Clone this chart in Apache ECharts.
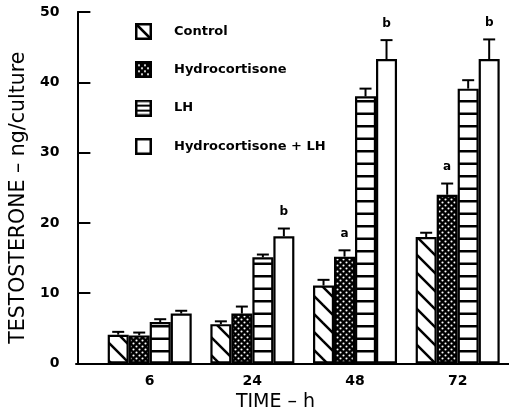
<!DOCTYPE html>
<html><head><meta charset="utf-8">
<script src="https://cdn.jsdelivr.net/npm/echarts@6/dist/echarts.min.js"></script>
<style>html,body{margin:0;padding:0;background:#fff}#c{width:509px;height:419px}</style>
</head><body><div id="c"></div>
<script>
// ---- data ----
const categories = ['6', '24', '48', '72'];
const seriesNames = ['Control', 'Hydrocortisone', 'LH', 'Hydrocortisone + LH'];
const control = [4.1, 5.6, 11.1, 18.0];
const controlErr = [0.4, 0.4, 0.8, 0.6];
const hydro = [4.0, 7.1, 15.2, 24.0];
const hydroErr = [0.4, 1.0, 0.9, 1.6];
const lh = [5.9, 15.1, 38.0, 39.1];
const lhErr = [0.4, 0.4, 1.1, 1.2];
const hydroLh = [7.1, 18.1, 43.3, 43.3];
const hydroLhErr = [0.4, 1.1, 2.7, 2.8];
const controlSig = ['', '', '', ''];
const hydroSig = ['', '', 'a', 'a'];
const lhSig = ['', '', '', ''];
const hydroLhSig = ['', 'b', 'b', 'b'];
const yMin = 0, yMax = 50, yStep = 10;
const xTitle = 'TIME \u2013 h';
const yTitle = 'TESTOSTERONE \u2013 ng/culture';

// ---- styles ----
const BAR_W = 21;
function mk(w, h, draw) {
  const c = document.createElement('canvas'); c.width = w; c.height = h;
  const x = c.getContext('2d'); x.fillStyle = '#fff'; x.fillRect(0, 0, w, h);
  draw(x, w, h); return c;
}
const diag = mk(18, 18, (x) => {
  x.strokeStyle = '#000'; x.lineWidth = 2.5;
  for (let k = -1; k <= 1; k++) { x.beginPath(); x.moveTo(k * 18 - 5, -5); x.lineTo(k * 18 + 23, 23); x.stroke(); }
});
const dots = mk(6, 6, (x) => {
  x.fillStyle = '#000'; x.fillRect(0, 0, 6, 6); x.fillStyle = '#fff';
  x.beginPath(); x.arc(1.5, 1.5, 1.05, 0, 7); x.fill();
  x.beginPath(); x.arc(4.5, 4.5, 1.05, 0, 7); x.fill();
});
const hl = mk(4, 25, (x) => { x.fillStyle = '#000'; x.fillRect(0, 0, 4, 2.5); x.fillRect(0, 12.5, 4, 2.5); });

function icon(kind) {
  const c = mk(17, 17, (x) => {
    if (kind === 1) { x.fillStyle = '#000'; x.fillRect(0, 0, 17, 17); x.fillStyle = '#fff';
      for (let i = 4; i < 14; i += 3) for (let j = 4; j < 14; j += 3) if (((i + j) / 3) % 2 < 1) { x.beginPath(); x.arc(i, j, 1.1, 0, 7); x.fill(); } }
    x.strokeStyle = '#000'; x.lineWidth = 2.5; x.strokeRect(1.25, 1.25, 14.5, 14.5);
    if (kind === 0) { x.beginPath(); x.moveTo(1, 1); x.lineTo(16, 16); x.stroke(); }
    if (kind === 2) { x.lineWidth = 2; x.beginPath(); x.moveTo(0, 6); x.lineTo(17, 6); x.moveTo(0, 11); x.lineTo(17, 11); x.stroke(); }
  });
  return 'image://' + c.toDataURL();
}

const valueSets = [control, hydro, lh, hydroLh];
const errSets = [controlErr, hydroErr, lhErr, hydroLhErr];
const sigSets = [controlSig, hydroSig, lhSig, hydroLhSig];
const fills = [{ image: diag, repeat: 'repeat' }, { image: dots, repeat: 'repeat' }, { image: hl, repeat: 'repeat' }, '#fff'];

const errData = [], sigFlat = [];
valueSets.forEach((vals, s) => vals.forEach((v, c) => { errData.push([c, v, errSets[s][c], s]); sigFlat.push(sigSets[s][c]); }));

const chart = echarts.init(document.getElementById('c'), null, { renderer: 'canvas' });
chart.setOption({
  animation: false,
  backgroundColor: '#fff',
  textStyle: { fontFamily: 'DejaVu Sans', color: '#000' },
  legend: {
    orient: 'vertical', left: 135, top: 23, padding: 0,
    itemWidth: 17, itemHeight: 17, itemGap: 21.3,
    selectedMode: false,
    data: seriesNames.map((n, i) => ({ name: n, icon: icon(i) })),
    textStyle: { fontFamily: 'DejaVu Sans', fontWeight: 'bold', fontSize: 13, color: '#000', padding: [0, 0, 0, 17] }
  },
  grid: [
    { left: 97, width: 422, top: 12, bottom: 55.5 },
    { left: 76, right: 0, top: 12, bottom: 55.5 }
  ],
  xAxis: [
    { type: 'category', gridIndex: 0, data: categories,
      axisLine: { show: false }, axisTick: { show: false },
      axisLabel: { margin: 11, fontFamily: 'DejaVu Sans', fontWeight: 'bold', fontSize: 14, color: '#000' } },
    { type: 'value', gridIndex: 1, min: 0, max: 1, splitLine: { show: false },
      axisLine: { show: true, lineStyle: { color: '#000', width: 2 } }, axisTick: { show: false }, axisLabel: { show: false },
      name: xTitle, nameLocation: 'middle', nameGap: 29,
      nameTextStyle: { fontFamily: 'DejaVu Sans', fontSize: 19, color: '#000', padding: [0, 34, 0, 0] } }
  ],
  yAxis: [
    { type: 'value', gridIndex: 0, min: yMin, max: yMax, interval: yStep, offset: 21,
      splitLine: { show: false },
      axisLine: { show: true, lineStyle: { color: '#000', width: 2 } },
      axisTick: { show: true, inside: true, length: 13, lineStyle: { color: '#000', width: 2 } },
      axisLabel: { margin: 18, fontFamily: 'DejaVu Sans', fontWeight: 'bold', fontSize: 14, color: '#000' },
      name: yTitle, nameLocation: 'middle', nameGap: 48,
      nameTextStyle: { fontFamily: 'DejaVu Sans', fontSize: 20.5, color: '#000', padding: [0, 20, 0, 0] } },
    { type: 'value', gridIndex: 1, show: false, min: 0, max: 1 }
  ],
  series: valueSets.map((vals, i) => ({
    type: 'bar', name: seriesNames[i], data: vals, xAxisIndex: 0, yAxisIndex: 0,
    barWidth: BAR_W, barGap: '0%', z: 2,
    itemStyle: { color: fills[i], borderColor: '#000', borderWidth: 2.2 }
  })).concat([{
    type: 'custom', xAxisIndex: 0, yAxisIndex: 0, z: 3, data: errData,
    encode: { x: 0, y: 1 },
    renderItem: function (params, api) {
      const c = api.value(0), v = api.value(1), e = api.value(2), s = api.value(3);
      const top = api.coord([c, v]), cap = api.coord([c, v + e]);
      const x = top[0] + (s - 1.5) * BAR_W;
      const st = { stroke: '#000', lineWidth: 2 };
      const children = [
        { type: 'line', shape: { x1: x, y1: top[1], x2: x, y2: cap[1] }, style: st },
        { type: 'line', shape: { x1: x - 6, y1: cap[1], x2: x + 6, y2: cap[1] }, style: st }
      ];
      const sig = sigFlat[params.dataIndex];
      if (sig) children.push({ type: 'text', style: { text: sig, x: x, y: cap[1] - 16.5, align: 'center', verticalAlign: 'middle',
        font: 'bold 12px "DejaVu Sans"', fill: '#000' } });
      return { type: 'group', children: children };
    }
  }])
});
</script></body></html>
